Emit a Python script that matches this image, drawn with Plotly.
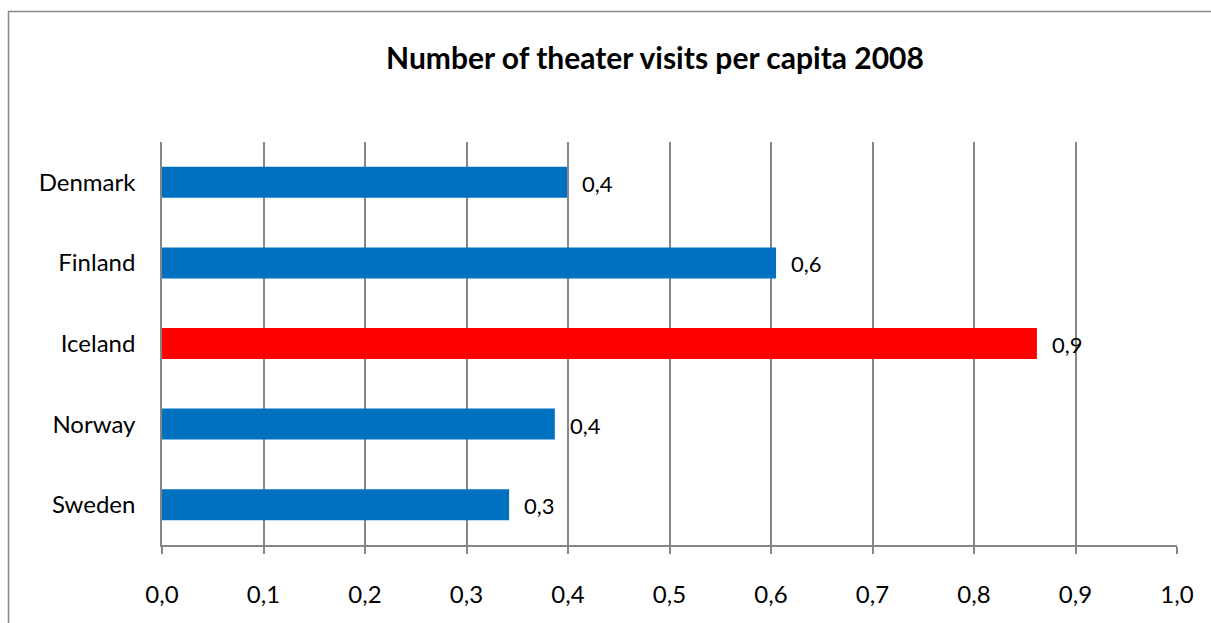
import plotly.graph_objects as go

# Theater visits per capita, 2008
countries = ["Denmark", "Finland", "Iceland", "Norway", "Sweden"]
visits = [0.399, 0.605, 0.862, 0.387, 0.342]
bar_colors = ["#0070C0", "#0070C0", "#FF0000", "#0070C0", "#0070C0"]
x_ticks = [0.0, 0.1, 0.2, 0.3, 0.4, 0.5, 0.6, 0.7, 0.8, 0.9, 1.0]
x_tick_labels = [f"{v:.1f}".replace(".", ",") for v in x_ticks]

FONT = "Lato, 'Open Sans', sans-serif"
GRID = "#868686"

fig = go.Figure()
fig.add_trace(go.Bar(
    x=visits,
    y=countries,
    orientation="h",
    marker=dict(color=bar_colors, line=dict(width=0)),
    width=0.385,
    hoverinfo="x+y",
))

# value labels just right of each bar end
for c, v in zip(countries, visits):
    fig.add_annotation(
        x=v, y=c, xref="x", yref="y",
        text=f"{v:.1f}".replace(".", ","),
        showarrow=False, xanchor="left", yanchor="middle",
        xshift=13, yshift=-1,
        font=dict(family=FONT, size=22, color="#000000"),
    )

L, R, T, B = 162, 34, 142, 78
W, H = 1211, 623
pw, ph = W - L - R, H - T - B

# outer chart frame
fig.add_shape(
    type="rect", xref="paper", yref="paper",
    x0=(8.5 - L) / pw, x1=(1214 - L) / pw,
    y0=-(B + 20) / ph, y1=(H - B - 11.5) / ph,
    line=dict(color="#878787", width=1.5), fillcolor="rgba(0,0,0,0)",
    layer="below",
)

fig.update_layout(
    width=W, height=H,
    margin=dict(l=L, r=R, t=T, b=B),
    paper_bgcolor="white", plot_bgcolor="white",
    showlegend=False,
    title=dict(
        text="<b>Number of theater visits per capita 2008</b>",
        x=655 / W, xanchor="center",
        y=1 - 58 / H, yanchor="middle",
        font=dict(family=FONT, size=30, color="#000000"),
    ),
)

fig.update_xaxes(
    range=[0, 1.0],
    tickvals=x_ticks, ticktext=x_tick_labels,
    showgrid=True, gridcolor=GRID, gridwidth=1.5,
    zeroline=False,
    showline=True, linecolor=GRID, linewidth=1.5,
    ticks="outside", ticklen=7, tickcolor=GRID, tickwidth=1.5,
    ticklabelstandoff=20,
    tickfont=dict(family=FONT, size=24, color="#000000"),
    fixedrange=True,
)

fig.update_yaxes(
    categoryorder="array", categoryarray=countries,
    autorange="reversed",
    showgrid=False, zeroline=False,
    showline=True, linecolor=GRID, linewidth=1.5,
    ticks="", ticklabelstandoff=20,
    tickfont=dict(family=FONT, size=24, color="#000000"),
    fixedrange=True,
)

fig.write_html("out.html")
